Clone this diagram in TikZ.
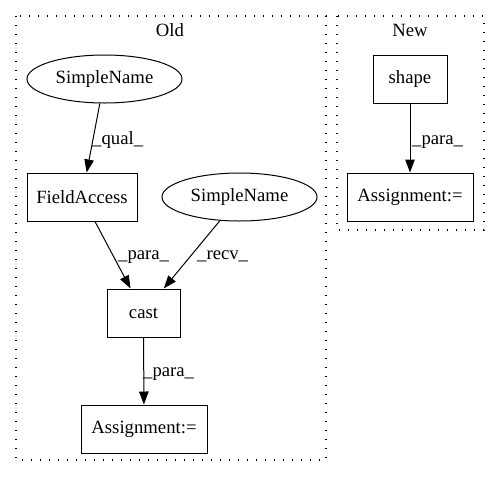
\documentclass[tikz,border=0pt]{standalone}
\usepackage{fontspec}
\setmainfont{Liberation Serif}
\usetikzlibrary{arrows.meta,shapes.geometric}
\tikzset{
  box/.style={draw, line width=1pt, rectangle, inner sep=0pt, minimum height=48pt},
  oval/.style={draw, line width=1pt, ellipse, inner sep=0pt, minimum width=155pt, minimum height=48pt},
  cluster/.style={draw, line width=1.2pt, dash pattern=on 1.3pt off 7.7pt},
  edge/.style={draw, line width=1pt, -{Triangle[length=13pt,width=9.5pt]}},
  elabel/.style={anchor=base west, inner sep=0pt},
  clabel/.style={anchor=base, inner sep=0pt},
}
\begin{document}
\begin{tikzpicture}[x=1pt,y=-1pt,font=\fontsize{18.7}{22}\selectfont]
\useasboundingbox (0,0) rectangle (500,480);
% clusters
\draw[cluster] (16,16) rectangle (326,460);
\node[clabel] (oldlab) at (170,36) {Old};
\draw[cluster] (337,16) rectangle (484,230);
\node[clabel] (newlab) at (410,36) {New};
% Old nodes
\node[oval] (sn1) at (104.5,79) {SimpleName};
\node[box, minimum width=110pt] (fa) at (82,197) {FieldAccess};
\node[oval] (sn2) at (239.5,197) {SimpleName};
\node[box, minimum width=73pt] (cast) at (143.5,313) {cast};
\node[box, minimum width=126pt] (asg1) at (144,429) {Assignment:=};
% New nodes
\node[box, minimum width=74pt] (shape) at (410,79) {shape};
\node[box, minimum width=126pt] (asg2) at (410,197) {Assignment:=};
% edges
\draw[edge] (sn1) -- (fa);
\draw[edge] (fa) -- (cast);
\draw[edge] (sn2) -- (cast);
\draw[edge] (cast) -- (asg1);
\draw[edge] (shape) -- (asg2);
% edge labels
\node[elabel] (l1) at (92,144) {\_qual\_};
\node[elabel] (l2) at (118,259) {\_para\_};
\node[elabel] (l3) at (197,259) {\_recv\_};
\node[elabel] (l4) at (143,376) {\_para\_};
\node[elabel] (l5) at (412,144) {\_para\_};
\end{tikzpicture}
\end{document}
